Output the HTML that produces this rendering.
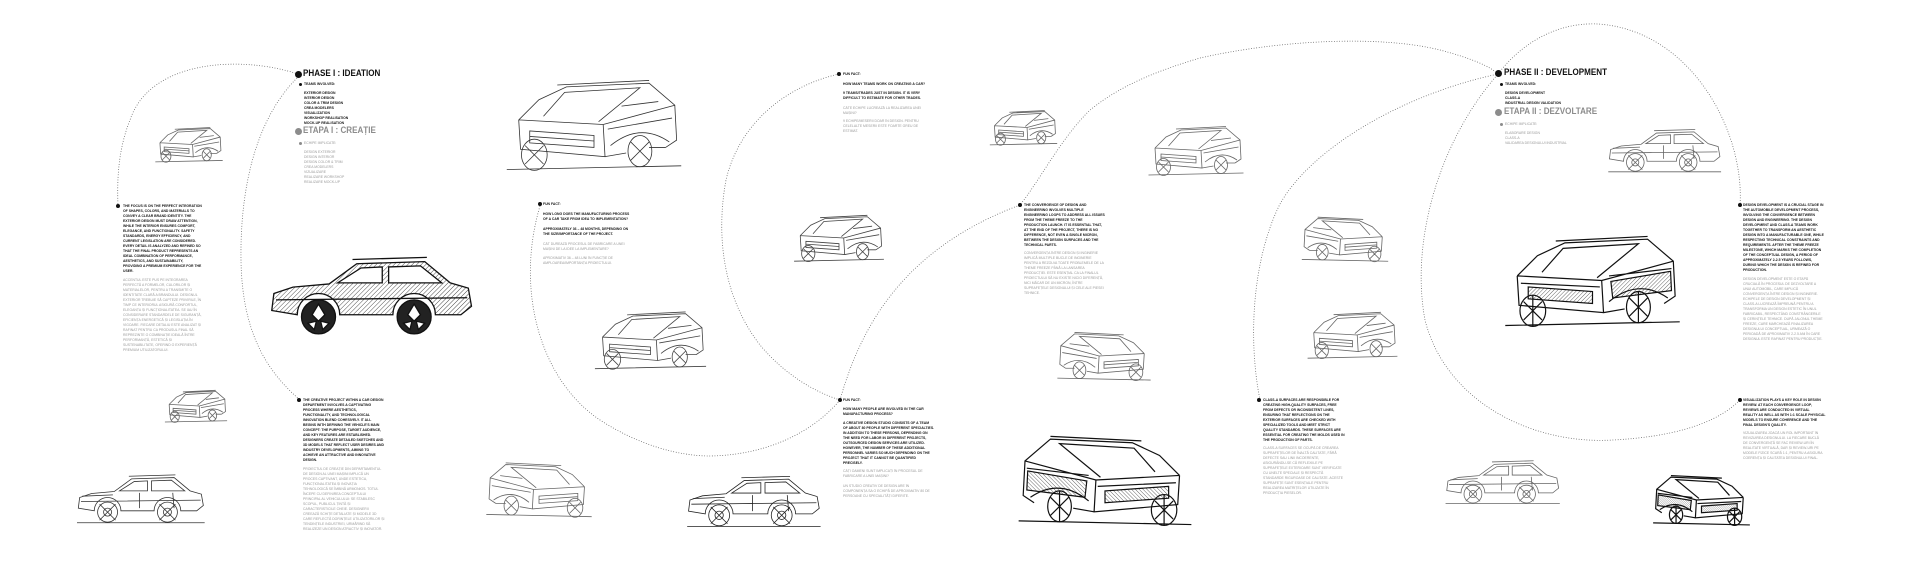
<!DOCTYPE html>
<html><head><meta charset="utf-8"><style>
html,body{margin:0;padding:0;background:#fff}
#c{position:relative;width:1920px;height:580px;overflow:hidden;background:#fff}
.t{position:absolute;font-family:"Liberation Sans",sans-serif;font-weight:bold;font-size:3.6px;line-height:5px;color:#151515;white-space:nowrap;transform:scaleX(0.95);transform-origin:0 0}
.r{font-weight:normal;color:#9a9a9a}
.h{position:absolute;font-family:"Liberation Sans",sans-serif;font-weight:bold;font-size:9.6px;line-height:10px;white-space:nowrap;transform:scaleX(0.84);transform-origin:0 0;color:#111}
.hg{color:#8c8c8c}
.d{position:absolute;border-radius:50%;background:#111}
svg{position:absolute;left:0;top:0}
</style></head><body><div id="c">
<svg width="1920" height="580" viewBox="0 0 1920 580">
<defs>
<pattern id="hatch" width="3" height="3" patternUnits="userSpaceOnUse" patternTransform="rotate(45)"><line x1="0" y1="0" x2="0" y2="3" stroke="#333" stroke-width="0.8"/></pattern>
<symbol id="side" viewBox="0 0 200 80"><g fill="none" stroke="currentColor" stroke-width="0.8">
<path vector-effect="non-scaling-stroke" d="M8,56 L10,40 L28,34 L62,31 L88,12 L152,10 L176,30 L193,35 L196,52 L186,60 L162,60 A20,20 0 0 0 122,60 L72,60 A20,20 0 0 0 32,60 L8,56 Z"/>
<path vector-effect="non-scaling-stroke" d="M70,30 L92,16 L112,15 L112,30 Z M118,30 L118,15 L148,14 L168,30 Z M12,46 L192,44 M6,78 L198,78 M84,8 L154,6 M14,38 L60,36 M100,33 L100,56 M150,33 L152,56"/>
<circle vector-effect="non-scaling-stroke" cx="52" cy="62" r="15"/><circle vector-effect="non-scaling-stroke" cx="142" cy="62" r="15"/>
<circle vector-effect="non-scaling-stroke" cx="52" cy="62" r="6"/><circle vector-effect="non-scaling-stroke" cx="142" cy="62" r="6"/>
<path vector-effect="non-scaling-stroke" d="M40,50 L64,74 M64,50 L40,74 M130,50 L154,74 M154,50 L130,74"/></g></symbol>
<symbol id="sideD" viewBox="0 0 200 80"><g stroke="#111" stroke-width="1.3">
<path vector-effect="non-scaling-stroke" fill="url(#hatch)" d="M8,56 L10,40 L28,34 L62,31 L88,12 L152,10 L176,30 L193,35 L196,52 L186,60 L162,60 A20,20 0 0 0 122,60 L72,60 A20,20 0 0 0 32,60 L8,56 Z"/>
<path vector-effect="non-scaling-stroke" fill="#fff" d="M70,30 L92,16 L112,15 L112,30 Z M118,30 L118,15 L148,14 L168,30 Z"/>
<path vector-effect="non-scaling-stroke" fill="none" d="M12,46 L192,44 M84,8 L154,6"/>
<circle vector-effect="non-scaling-stroke" cx="52" cy="62" r="16" fill="#222"/><circle vector-effect="non-scaling-stroke" cx="142" cy="62" r="16" fill="#222"/>
<path vector-effect="non-scaling-stroke" fill="#fff" d="M52,50 L58,60 L52,66 L46,60Z M142,50 L148,60 L142,66 L136,60Z M42,68 L50,66 L48,74Z M62,68 L54,66 L56,74Z M132,68 L140,66 L138,74Z M152,68 L144,66 L146,74Z"/></g></symbol>
<symbol id="tq" viewBox="0 0 200 110"><g fill="none" stroke="currentColor" stroke-width="0.8">
<path vector-effect="non-scaling-stroke" d="M18,50 L40,28 L70,14 L160,10 L188,34 L190,72 L178,80 M18,50 L110,55 L188,34 M18,50 L20,82 L112,90 L110,55 M30,62 L100,67 L100,80 L30,75 Z M30,68 L100,73 M45,46 L68,20 L150,15 L105,52 M112,90 L135,86 M160,80 L178,80 M5,104 L195,100 M60,12 L160,7 M115,60 L185,48 M130,35 L170,30"/>
<ellipse vector-effect="non-scaling-stroke" cx="35" cy="88" rx="14" ry="17"/><ellipse vector-effect="non-scaling-stroke" cx="150" cy="84" rx="13" ry="17"/>
<path vector-effect="non-scaling-stroke" d="M25,78 L45,98 M45,78 L25,98 M140,74 L160,94 M160,74 L140,94 M118,78 Q150,52 182,74"/></g></symbol>
<symbol id="tqD" viewBox="0 0 200 110"><g fill="none" stroke="#111" stroke-width="1.2">
<path vector-effect="non-scaling-stroke" d="M18,50 L40,28 L70,14 L160,10 L188,34 L190,72 L178,80 M18,50 L110,55 L188,34 M18,50 L20,82 L112,90 L110,55 M45,46 L68,20 L150,15 L105,52 M112,90 L135,86 M5,104 L195,100 M60,12 L160,7 M22,58 L108,62 M118,50 L186,42"/>
<path vector-effect="non-scaling-stroke" fill="url(#hatch)" d="M30,62 L100,67 L100,80 L30,75 Z M120,56 L185,45 L186,66 L122,74Z"/>
<ellipse vector-effect="non-scaling-stroke" cx="35" cy="88" rx="14" ry="17"/><ellipse vector-effect="non-scaling-stroke" cx="150" cy="84" rx="13" ry="17"/>
<path vector-effect="non-scaling-stroke" d="M25,78 L45,98 M45,78 L25,98 M35,71 L35,105 M140,74 L160,94 M160,74 L140,94 M150,67 L150,101 M118,78 Q150,52 182,74"/></g></symbol>
</defs>
<g fill="none" stroke="#555" stroke-width="0.8" stroke-dasharray="0.8 1.8">
<path d="M298,74 C240,55 150,60 130,120 C118,150 117,180 118,206"/>
<path d="M297,78 C255,120 240,190 241,260 C242,330 265,370 300,400"/>
<path d="M540,206 C515,290 540,380 600,420 C640,446 680,456 710,456 C770,455 815,430 840,400"/>
<path d="M839,74 C790,85 740,120 726,180 C715,240 725,300 760,345 C785,375 815,392 840,400"/>
<path d="M840,400 C860,330 900,250 1020,205 C1040,180 1060,140 1089,111 C1120,85 1160,70 1200,58 C1280,40 1380,35 1440,50 C1470,58 1490,66 1498,74"/>
<path d="M1260,400 C1248,340 1252,260 1280,204 C1310,150 1400,95 1498,74"/>
<path d="M1740,206 C1745,130 1690,30 1598,24 C1555,22 1520,45 1498,74 C1440,140 1410,240 1425,320 C1445,400 1530,445 1613,440 C1670,437 1715,425 1740,400"/>
</g>
<g color="#666">
<use href="#tq" x="151" y="125" width="76" height="39" preserveAspectRatio="none"/>
<use href="#sideD" x="261" y="251" width="217" height="85" preserveAspectRatio="none"/>
<use href="#tq" x="155" y="388" width="82" height="36" preserveAspectRatio="none"/>
<use href="#side" x="73" y="467" width="133" height="61" preserveAspectRatio="none" color="#333"/>
<use href="#tq" x="498" y="74" width="192" height="101" preserveAspectRatio="none" color="#333"/>
<use href="#tq" x="592" y="301" width="117" height="78" preserveAspectRatio="none" color="#444"/>
<use href="#tq" x="-596" y="459" width="114" height="61" preserveAspectRatio="none" transform="scale(-1,1)"/>
<use href="#tq" x="985" y="108" width="77" height="39" preserveAspectRatio="none"/>
<use href="#tq" x="1142" y="123" width="108" height="55" preserveAspectRatio="none"/>
<use href="#tq" x="783" y="212" width="112" height="52" preserveAspectRatio="none" color="#444"/>
<use href="#tq" x="-1160" y="329" width="112" height="54" preserveAspectRatio="none" transform="scale(-1,1)"/>
<use href="#side" x="683" y="470" width="139" height="60" preserveAspectRatio="none" color="#222"/>
<use href="#tqD" x="-1202" y="430" width="194" height="100" preserveAspectRatio="none" transform="scale(-1,1)"/>
<use href="#side" x="1604" y="126" width="119" height="47" preserveAspectRatio="none"/>
<use href="#tq" x="-1394" y="214" width="98" height="50" preserveAspectRatio="none" transform="scale(-1,1)"/>
<use href="#tq" x="1296" y="309" width="113" height="52" preserveAspectRatio="none"/>
<use href="#tqD" x="1470" y="230" width="245" height="101" preserveAspectRatio="none"/>
<use href="#side" x="1442" y="457" width="119" height="48" preserveAspectRatio="none"/>
<use href="#tqD" x="-1771" y="472" width="139" height="56" preserveAspectRatio="none" transform="scale(-1,1)"/>
</g>
</svg>

<!-- PHASE I -->
<div class="d" style="left:295px;top:71px;width:7px;height:7px"></div>
<div class="h" style="left:303px;top:69px">PHASE I : IDEATION</div>
<div class="d" style="left:299px;top:82.5px;width:3px;height:3px"></div>
<div class="t" style="left:304px;top:81.5px">TEAMS INVOLVED:</div>
<div class="t" style="left:304px;top:90.5px">EXTERIOR DESIGN<br>INTERIOR DESIGN<br>COLOR &amp; TRIM DESIGN<br>CREA MODELERS<br>VISUALIZATION<br>WORKSHOP REALISATION<br>MOCK-UP REALISATION</div>
<div class="d" style="left:295px;top:128px;width:7px;height:7px;background:#8c8c8c"></div>
<div class="h hg" style="left:303px;top:126px">ETAPA I : CREAȚIE</div>
<div class="d" style="left:299px;top:141.5px;width:3px;height:3px;background:#8c8c8c"></div>
<div class="t r" style="left:304px;top:140.5px">ECHIPE IMPLICATE:</div>
<div class="t r" style="left:304px;top:150px">DESIGN EXTERIOR<br>DESIGN INTERIOR<br>DESIGN COLOR &amp; TRIM<br>CREA MODELERS<br>VIZUALIZARE<br>REALIZARE WORKSHOP<br>REALIZARE MOCK-UP</div>

<!-- focus -->
<div class="d" style="left:116px;top:204px;width:4px;height:4px"></div>
<div class="t" style="left:123px;top:203.5px">THE FOCUS IS ON THE PERFECT INTEGRATION<br>OF SHAPES, COLORS, AND MATERIALS TO<br>CONVEY A CLEAR BRAND IDENTITY. THE<br>EXTERIOR DESIGN MUST DRAW ATTENTION,<br>WHILE THE INTERIOR ENSURES COMFORT,<br>ELEGANCE, AND FUNCTIONALITY. SAFETY<br>STANDARDS, ENERGY EFFICIENCY, AND<br>CURRENT LEGISLATION ARE CONSIDERED.<br>EVERY DETAIL IS ANALYZED AND REFINED SO<br>THAT THE FINAL PRODUCT REPRESENTS AN<br>IDEAL COMBINATION OF PERFORMANCE,<br>AESTHETICS, AND SUSTAINABILITY,<br>PROVIDING A PREMIUM EXPERIENCE FOR THE<br>USER.</div>
<div class="t r" style="left:123px;top:278px">ACCENTUL ESTE PUS PE INTEGRAREA<br>PERFECTĂ A FORMELOR, CULORILOR ȘI<br>MATERIALELOR, PENTRU A TRANSMITE O<br>IDENTITATE CLARĂ A BRANDULUI. DESIGNUL<br>EXTERIOR TREBUIE SĂ CAPTEZE PRIVIRILE, ÎN<br>TIMP CE INTERIORUL ASIGURĂ CONFORTUL,<br>ELEGANȚA ȘI FUNCȚIONALITATEA. SE IAU ÎN<br>CONSIDERARE STANDARDELE DE SIGURANȚĂ,<br>EFICIENȚA ENERGETICĂ ȘI LEGISLAȚIA ÎN<br>VIGOARE. FIECARE DETALIU ESTE ANALIZAT ȘI<br>RAFINAT PENTRU CA PRODUSUL FINAL SĂ<br>REPREZINTE O COMBINAȚIE IDEALĂ ÎNTRE<br>PERFORMANȚĂ, ESTETICĂ ȘI<br>SUSTENABILITATE, OFERIND O EXPERIENȚĂ<br>PREMIUM UTILIZATORULUI.</div>

<!-- creative -->
<div class="d" style="left:297px;top:398px;width:4px;height:4px"></div>
<div class="t" style="left:303px;top:397.5px">THE CREATIVE PROJECT WITHIN A CAR DESIGN<br>DEPARTMENT INVOLVES A CAPTIVATING<br>PROCESS WHERE AESTHETICS,<br>FUNCTIONALITY, AND TECHNOLOGICAL<br>INNOVATION BLEND COHESIVELY. IT ALL<br>BEGINS WITH DEFINING THE VEHICLE'S MAIN<br>CONCEPT: THE PURPOSE, TARGET AUDIENCE,<br>AND KEY FEATURES ARE ESTABLISHED.<br>DESIGNERS CREATE DETAILED SKETCHES AND<br>3D MODELS THAT REFLECT USER DESIRES AND<br>INDUSTRY DEVELOPMENTS, AIMING TO<br>ACHIEVE AN ATTRACTIVE AND INNOVATIVE<br>DESIGN.</div>
<div class="t r" style="left:303px;top:467px">PROIECTUL DE CREAȚIE DIN DEPARTAMENTUL<br>DE DESIGN AL UNEI MAȘINI IMPLICĂ UN<br>PROCES CAPTIVANT, UNDE ESTETICA,<br>FUNCȚIONALITATEA ȘI INOVAȚIA<br>TEHNOLOGICĂ SE ÎMBINĂ ARMONIOS. TOTUL<br>ÎNCEPE CU DEFINIREA CONCEPTULUI<br>PRINCIPAL AL VEHICULULUI: SE STABILESC<br>SCOPUL, PUBLICUL ȚINTĂ ȘI<br>CARACTERISTICILE CHEIE. DESIGNERII<br>CREEAZĂ SCHIȚE DETALIATE ȘI MODELE 3D<br>CARE REFLECTĂ DORINȚELE UTILIZATORILOR ȘI<br>TENDINȚELE INDUSTRIEI, URMĂRIND SĂ<br>REALIZEZE UN DESIGN ATRACTIV ȘI INOVATOR.</div>

<!-- fun fact 1 -->
<div class="d" style="left:538px;top:202px;width:4px;height:4px"></div>
<div class="t" style="left:543px;top:201.5px">FUN FACT:</div>
<div class="t" style="left:543px;top:212px">HOW LONG DOES THE MANUFACTURING PROCESS<br>OF A CAR TAKE FROM IDEA TO IMPLEMENTATION?</div>
<div class="t" style="left:543px;top:227px">APPROXIMATELY 36 – 48 MONTHS, DEPENDING ON<br>THE SIZE/IMPORTANCE OF THE PROJECT.</div>
<div class="t r" style="left:543px;top:241.5px">CÂT DUREAZĂ PROCESUL DE FABRICARE A UNEI<br>MAȘINI DE LA IDEE LA IMPLEMENTARE?</div>
<div class="t r" style="left:543px;top:256px">APROXIMATIV 36 – 48 LUNI ÎN FUNCȚIE DE<br>AMPLOAREA/IMPORTANȚA PROIECTULUI.</div>

<!-- fun fact top -->
<div class="d" style="left:837px;top:72px;width:4px;height:4px"></div>
<div class="t" style="left:843px;top:71.5px">FUN FACT:</div>
<div class="t" style="left:843px;top:82px">HOW MANY TEAMS WORK ON CREATING A CAR?</div>
<div class="t" style="left:843px;top:91px">9 TEAMS/TRADES JUST IN DESIGN. IT IS VERY<br>DIFFICULT TO ESTIMATE FOR OTHER TRADES.</div>
<div class="t r" style="left:843px;top:106px">CÂTE ECHIPE LUCREAZĂ LA REALIZAREA UNEI<br>MAȘINI?</div>
<div class="t r" style="left:843px;top:119px">9 ECHIPE/MESERII DOAR ÎN DESIGN. PENTRU<br>CELELALTE MESERII ESTE FOARTE GREU DE<br>ESTIMAT.</div>

<!-- fun fact 2 -->
<div class="d" style="left:838px;top:398px;width:4px;height:4px"></div>
<div class="t" style="left:843px;top:397.5px">FUN FACT:</div>
<div class="t" style="left:843px;top:406.5px">HOW MANY PEOPLE ARE INVOLVED IN THE CAR<br>MANUFACTURING PROCESS?</div>
<div class="t" style="left:843px;top:421px">A CREATIVE DESIGN STUDIO CONSISTS OF A TEAM<br>OF ABOUT 80 PEOPLE WITH DIFFERENT SPECIALTIES.<br>IN ADDITION TO THESE PERSONS, DEPENDING ON<br>THE NEED FOR LABOR IN DIFFERENT PROJECTS,<br>OUTSOURCED DESIGN SERVICES ARE UTILIZED.<br>HOWEVER, THE NUMBER OF THESE ADDITIONAL<br>PERSONNEL VARIES SO MUCH DEPENDING ON THE<br>PROJECT THAT IT CANNOT BE QUANTIFIED<br>PRECISELY.</div>
<div class="t r" style="left:843px;top:469px">CÂȚI OAMENI SUNT IMPLICAȚI ÎN PROCESUL DE<br>FABRICARE A UNEI MAȘINI?</div>
<div class="t r" style="left:843px;top:484px">UN STUDIO CREATIV DE DESIGN ARE ÎN<br>COMPONENȚA SA O ECHIPĂ DE APROXIMATIV 80 DE<br>PERSOANE CU SPECIALITĂȚI DIFERITE.</div>

<!-- convergence -->
<div class="d" style="left:1018px;top:203px;width:4px;height:4px"></div>
<div class="t" style="left:1024px;top:202.5px">THE CONVERGENCE OF DESIGN AND<br>ENGINEERING INVOLVES MULTIPLE<br>ENGINEERING LOOPS TO ADDRESS ALL ISSUES<br>FROM THE THEME FREEZE TO THE<br>PRODUCTION LAUNCH. IT IS ESSENTIAL THAT,<br>AT THE END OF THE PROJECT, THERE IS NO<br>DIFFERENCE, NOT EVEN A SINGLE MICRON,<br>BETWEEN THE DESIGN SURFACES AND THE<br>TECHNICAL PARTS.</div>
<div class="t r" style="left:1024px;top:251px">CONVERGENȚA ÎNTRE DESIGN ȘI INGINERIE<br>IMPLICĂ MULTIPLE BUCLE DE INGINERIE<br>PENTRU A REZOLVA TOATE PROBLEMELE DE LA<br>THEME FREEZE PÂNĂ LA LANSAREA<br>PRODUCȚIEI. ESTE ESENȚIAL CA LA FINALUL<br>PROIECTULUI SĂ NU EXISTE NICIO DIFERENȚĂ,<br>NICI MĂCAR DE UN MICRON, ÎNTRE<br>SUPRAFEȚELE DESIGNULUI ȘI CELE ALE PIESEI<br>TEHNICE.</div>

<!-- class-A -->
<div class="d" style="left:1257px;top:398px;width:4px;height:4px"></div>
<div class="t" style="left:1263px;top:397.5px">CLASS-A SURFACES ARE RESPONSIBLE FOR<br>CREATING HIGH-QUALITY SURFACES, FREE<br>FROM DEFECTS OR INCONSISTENT LINES,<br>ENSURING THAT REFLECTIONS ON THE<br>EXTERIOR SURFACES ARE CHECKED WITH<br>SPECIALIZED TOOLS AND MEET STRICT<br>QUALITY STANDARDS. THESE SURFACES ARE<br>ESSENTIAL FOR CREATING THE MOLDS USED IN<br>THE PRODUCTION OF PARTS.</div>
<div class="t r" style="left:1263px;top:446px">CLASS-A SURFACES SE OCUPĂ DE CREAREA<br>SUPRAFEȚELOR DE ÎNALTĂ CALITATE, FĂRĂ<br>DEFECTE SAU LINII INCOERENTE,<br>ASIGURÂNDU-SE CĂ REFLEXIILE PE<br>SUPRAFEȚELE EXTERIOARE SUNT VERIFICATE<br>CU UNELTE SPECIALE ȘI RESPECTĂ<br>STANDARDE RIGUROASE DE CALITATE. ACESTE<br>SUPRAFEȚE SUNT ESENȚIALE PENTRU<br>REALIZAREA MATRIȚELOR UTILIZATE ÎN<br>PRODUCȚIA PIESELOR.</div>

<!-- PHASE II -->
<div class="d" style="left:1495px;top:70px;width:7px;height:7px"></div>
<div class="h" style="left:1504px;top:68px">PHASE II : DEVELOPMENT</div>
<div class="d" style="left:1500px;top:82.5px;width:3px;height:3px"></div>
<div class="t" style="left:1505px;top:81.5px">TEAMS INVOLVED:</div>
<div class="t" style="left:1505px;top:90.5px">DESIGN DEVELOPMENT<br>CLASS-A<br>INDUSTRIAL DESIGN VALIDATION</div>
<div class="d" style="left:1495px;top:109px;width:7px;height:7px;background:#8c8c8c"></div>
<div class="h hg" style="left:1504px;top:107px">ETAPA II : DEZVOLTARE</div>
<div class="d" style="left:1500px;top:122.5px;width:3px;height:3px;background:#8c8c8c"></div>
<div class="t r" style="left:1505px;top:121.5px">ECHIPE IMPLICATE:</div>
<div class="t r" style="left:1505px;top:130.5px">ELABORARE DESIGN<br>CLASS-A<br>VALIDAREA DESIGNULUI INDUSTRIAL</div>

<!-- design development -->
<div class="d" style="left:1738px;top:203px;width:4px;height:4px"></div>
<div class="t" style="left:1743px;top:202.5px">DESIGN DEVELOPMENT IS A CRUCIAL STAGE IN<br>THE AUTOMOBILE DEVELOPMENT PROCESS,<br>INVOLVING THE CONVERGENCE BETWEEN<br>DESIGN AND ENGINEERING. THE DESIGN<br>DEVELOPMENT AND CLASS-A TEAMS WORK<br>TOGETHER TO TRANSFORM AN AESTHETIC<br>DESIGN INTO A MANUFACTURABLE ONE, WHILE<br>RESPECTING TECHNICAL CONSTRAINTS AND<br>REQUIREMENTS. AFTER THE THEME FREEZE<br>MILESTONE, WHICH MARKS THE COMPLETION<br>OF THE CONCEPTUAL DESIGN, A PERIOD OF<br>APPROXIMATELY 2-2.5 YEARS FOLLOWS,<br>DURING WHICH THE DESIGN IS REFINED FOR<br>PRODUCTION.</div>
<div class="t r" style="left:1743px;top:277px">DESIGN DEVELOPMENT ESTE O ETAPĂ<br>CRUCIALĂ ÎN PROCESUL DE DEZVOLTARE A<br>UNUI AUTOMOBIL, CARE IMPLICĂ<br>CONVERGENȚA ÎNTRE DESIGN ȘI INGINERIE.<br>ECHIPELE DE DESIGN DEVELOPMENT ȘI<br>CLASS-A LUCREAZĂ ÎMPREUNĂ PENTRU A<br>TRANSFORMA UN DESIGN ESTETIC ÎN UNUL<br>FABRICABIL, RESPECTÂND CONSTRÂNGERILE<br>ȘI CERINȚELE TEHNICE. DUPĂ JALONUL THEME<br>FREEZE, CARE MARCHEAZĂ FINALIZAREA<br>DESIGNULUI CONCEPTUAL, URMEAZĂ O<br>PERIOADĂ DE APROXIMATIV 2-2.5 ANI ÎN CARE<br>DESIGNUL ESTE RAFINAT PENTRU PRODUCȚIE.</div>

<!-- visualization -->
<div class="d" style="left:1738px;top:398px;width:4px;height:4px"></div>
<div class="t" style="left:1743px;top:397.5px">VISUALIZATION PLAYS A KEY ROLE IN DESIGN<br>REVIEW. AT EACH CONVERGENCE LOOP,<br>REVIEWS ARE CONDUCTED IN VIRTUAL<br>REALITY AS WELL AS WITH 1:1 SCALE PHYSICAL<br>MODELS TO ENSURE COHERENCE AND THE<br>FINAL DESIGN'S QUALITY.</div>
<div class="t r" style="left:1743px;top:431px">VIZUALIZAREA JOACĂ UN ROL IMPORTANT ÎN<br>REVIZUIREA DESIGNULUI. LA FIECARE BUCLĂ<br>DE CONVERGENȚĂ SE FAC REVIEW-URI ÎN<br>REALITATE VIRTUALĂ, DAR ȘI REVIEW-URI PE<br>MODELE FIZICE SCARĂ 1:1, PENTRU A ASIGURA<br>COERENȚA ȘI CALITATEA DESIGNULUI FINAL.</div>
</div></body></html>
